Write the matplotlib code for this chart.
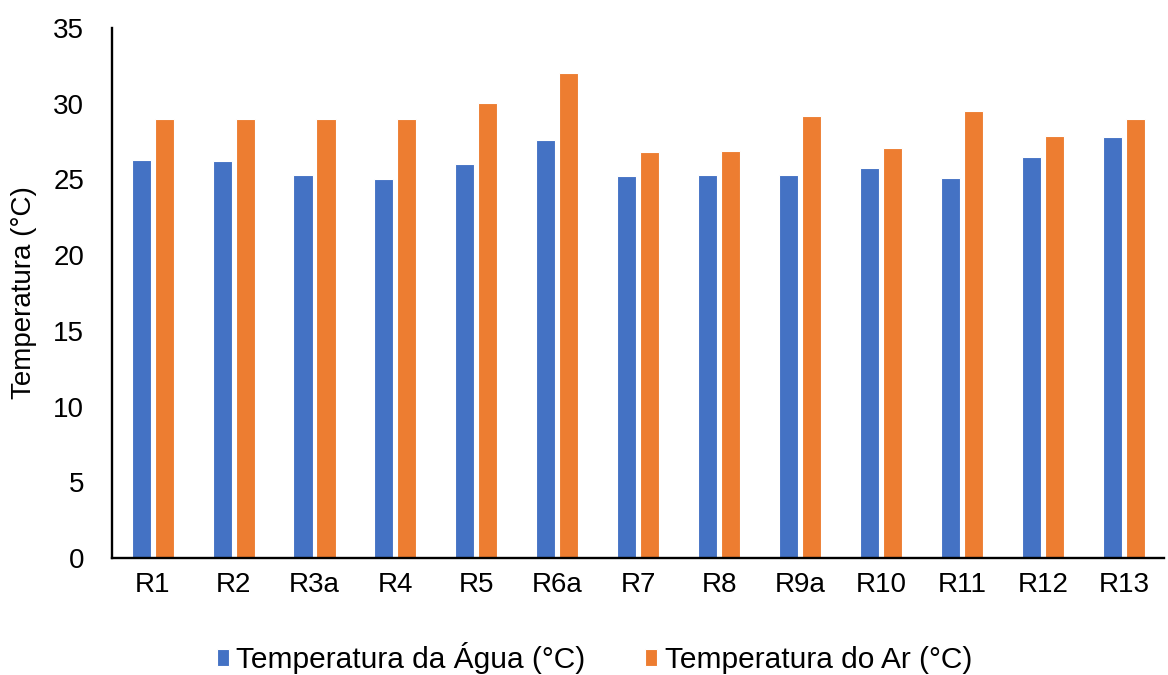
import matplotlib.pyplot as plt
import numpy as np

plt.rcParams['font.family'] = ['Liberation Sans', 'DejaVu Sans']

# station codes and temperatures
estacoes = ["R1", "R2", "R3a", "R4", "R5", "R6a", "R7", "R8", "R9a", "R10", "R11", "R12", "R13"]
temp_agua = [26.3, 26.2, 25.3, 25.0, 26.0, 27.6, 25.2, 25.3, 25.3, 25.75, 25.1, 26.5, 27.8]
temp_ar = [29.0, 29.0, 29.0, 29.0, 30.05, 32.0, 26.8, 26.9, 29.2, 27.05, 29.5, 27.9, 29.0]

fig = plt.figure(figsize=(11.68, 6.75), dpi=100)
ax = fig.add_axes([0.096, 0.1733, 0.901, 0.7852])

x = np.arange(len(estacoes))
w = 0.235
ax.bar(x - 0.142, temp_agua, w, color="#4472C4", edgecolor="white", linewidth=0.8,
       label="Temperatura da Água (°C)")
ax.bar(x + 0.142, temp_ar, w, color="#ED7D31", edgecolor="white", linewidth=0.8,
       label="Temperatura do Ar (°C)")

ax.set_xlim(-0.5, len(estacoes) - 0.5)
ax.set_ylim(0, 35)
ax.set_yticks(range(0, 36, 5))
ax.set_xticks(x)
ax.set_xticklabels(estacoes)
ax.tick_params(axis="both", length=0, labelsize=20)
ax.tick_params(axis="x", pad=10)
ax.tick_params(axis="y", pad=20)
ax.set_ylabel("Temperatura (°C)", fontsize=20, labelpad=12)

for s in ["top", "right"]:
    ax.spines[s].set_visible(False)
for s in ["left", "bottom"]:
    ax.spines[s].set_linewidth(1.7)
    ax.spines[s].set_color("black")

fig.legend(loc="center", bbox_to_anchor=(0.509, 0.025), ncol=2, frameon=False,
           fontsize=21.5, handlelength=0.4, handleheight=0.5, handletextpad=0.25,
           columnspacing=2.0)

fig.savefig("out.png", dpi=100)
